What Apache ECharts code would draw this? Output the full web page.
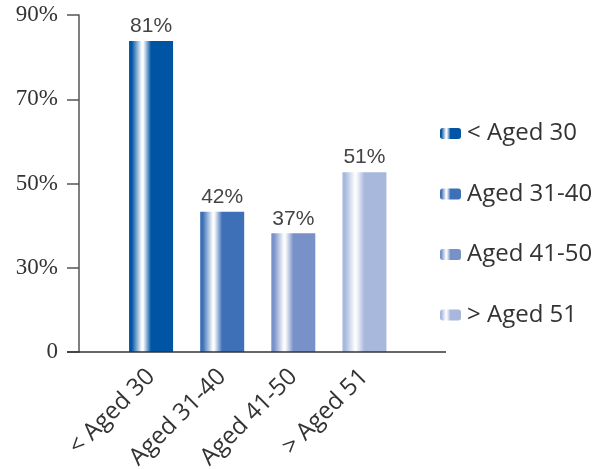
<!DOCTYPE html>
<html>
<head>
<meta charset="utf-8">
<script src="https://cdn.jsdelivr.net/npm/echarts@6/dist/echarts.min.js"></script>
<style>
  html, body { margin: 0; padding: 0; background: #fff; }
  #chart { width: 608px; height: 469px; }
</style>
</head>
<body>
<div id="chart"></div>
<script>
// categories and values
const categories = ['< Aged 30', 'Aged 31-40', 'Aged 41-50', '> Aged 51'];
const barHeights = [83.8, 43.3, 38.2, 52.7]; // heights against the drawn axis
const valueLabels = ['81%', '42%', '37%', '51%'];
const yTicks = [10, 30, 50, 70, 90];
const yTickLabels = ['0', '30%', '50%', '70%', '90%'];
const barColors = ['#0054a4', '#3d70b6', '#7891c8', '#a7b8dc'];

function barFill(c) {
  return {
    type: 'linear', x: 0, y: 0, x2: 1, y2: 0,
    colorStops: [
      { offset: 0, color: c },
      { offset: 0.06, color: c },
      { offset: 0.29, color: '#ffffff' },
      { offset: 0.33, color: '#f4f6fb' },
      { offset: 0.5, color: c },
      { offset: 1, color: c },
    ],
  };
}

const chart = echarts.init(document.getElementById('chart'));

const series = categories.map((name, i) => ({
  name: name,
  type: 'bar',
  barWidth: 44,
  barGap: '-100%',
  data: categories.map((_, j) => (j === i ? barHeights[i] : '-')),
  itemStyle: { color: barFill(barColors[i]) },
  label: {
    show: true,
    position: 'top',
    distance: 4,
    fontFamily: 'Liberation Sans',
    fontSize: 21,
    color: '#444',
    formatter: () => valueLabels[i],
  },
}));

chart.setOption({
  animation: false,
  grid: { left: 115.5, right: 208, top: 15, bottom: 117, outerBoundsMode: 'none' },
  legend: {
    orient: 'vertical',
    left: 435,
    top: 116,
    itemWidth: 21,
    itemHeight: 11,
    itemGap: 35.5,
    data: categories,
    textStyle: { fontFamily: 'Open Sans', fontSize: 24, lineHeight: 25, color: '#333', padding: [0, 0, 0, 1] },
  },
  xAxis: {
    type: 'category',
    data: categories,
    axisLine: { show: false },
    axisTick: { show: false },
    axisLabel: {
      rotate: 45,
      margin: 21,
      fontFamily: 'Open Sans',
      fontSize: 24,
      color: '#333',
    },
  },
  yAxis: {
    type: 'value',
    min: yTicks[0],
    max: yTicks[yTicks.length - 1],
    interval: 20,
    offset: 36.5,
    splitLine: { show: false },
    axisLine: { show: true, lineStyle: { color: '#555', width: 1.5 } },
    axisTick: { show: true, length: 12, lineStyle: { color: '#555', width: 1.5 } },
    axisLabel: {
      margin: 21,
      fontFamily: 'Liberation Serif',
      fontSize: 23,
      color: '#333',
      formatter: (v) => yTickLabels[yTicks.indexOf(v)],
    },
  },
  series: series,
});

// baseline runs from the y-axis tick out past the last bar
const base = chart.convertToPixel({ gridIndex: 0 }, [0, yTicks[0]]);
chart.setOption({
  graphic: [{
    type: 'line',
    z: 10,
    shape: { x1: 67, y1: base[1], x2: 446, y2: base[1] },
    style: { stroke: '#333', lineWidth: 1.5 },
  }],
});
</script>
</body>
</html>
